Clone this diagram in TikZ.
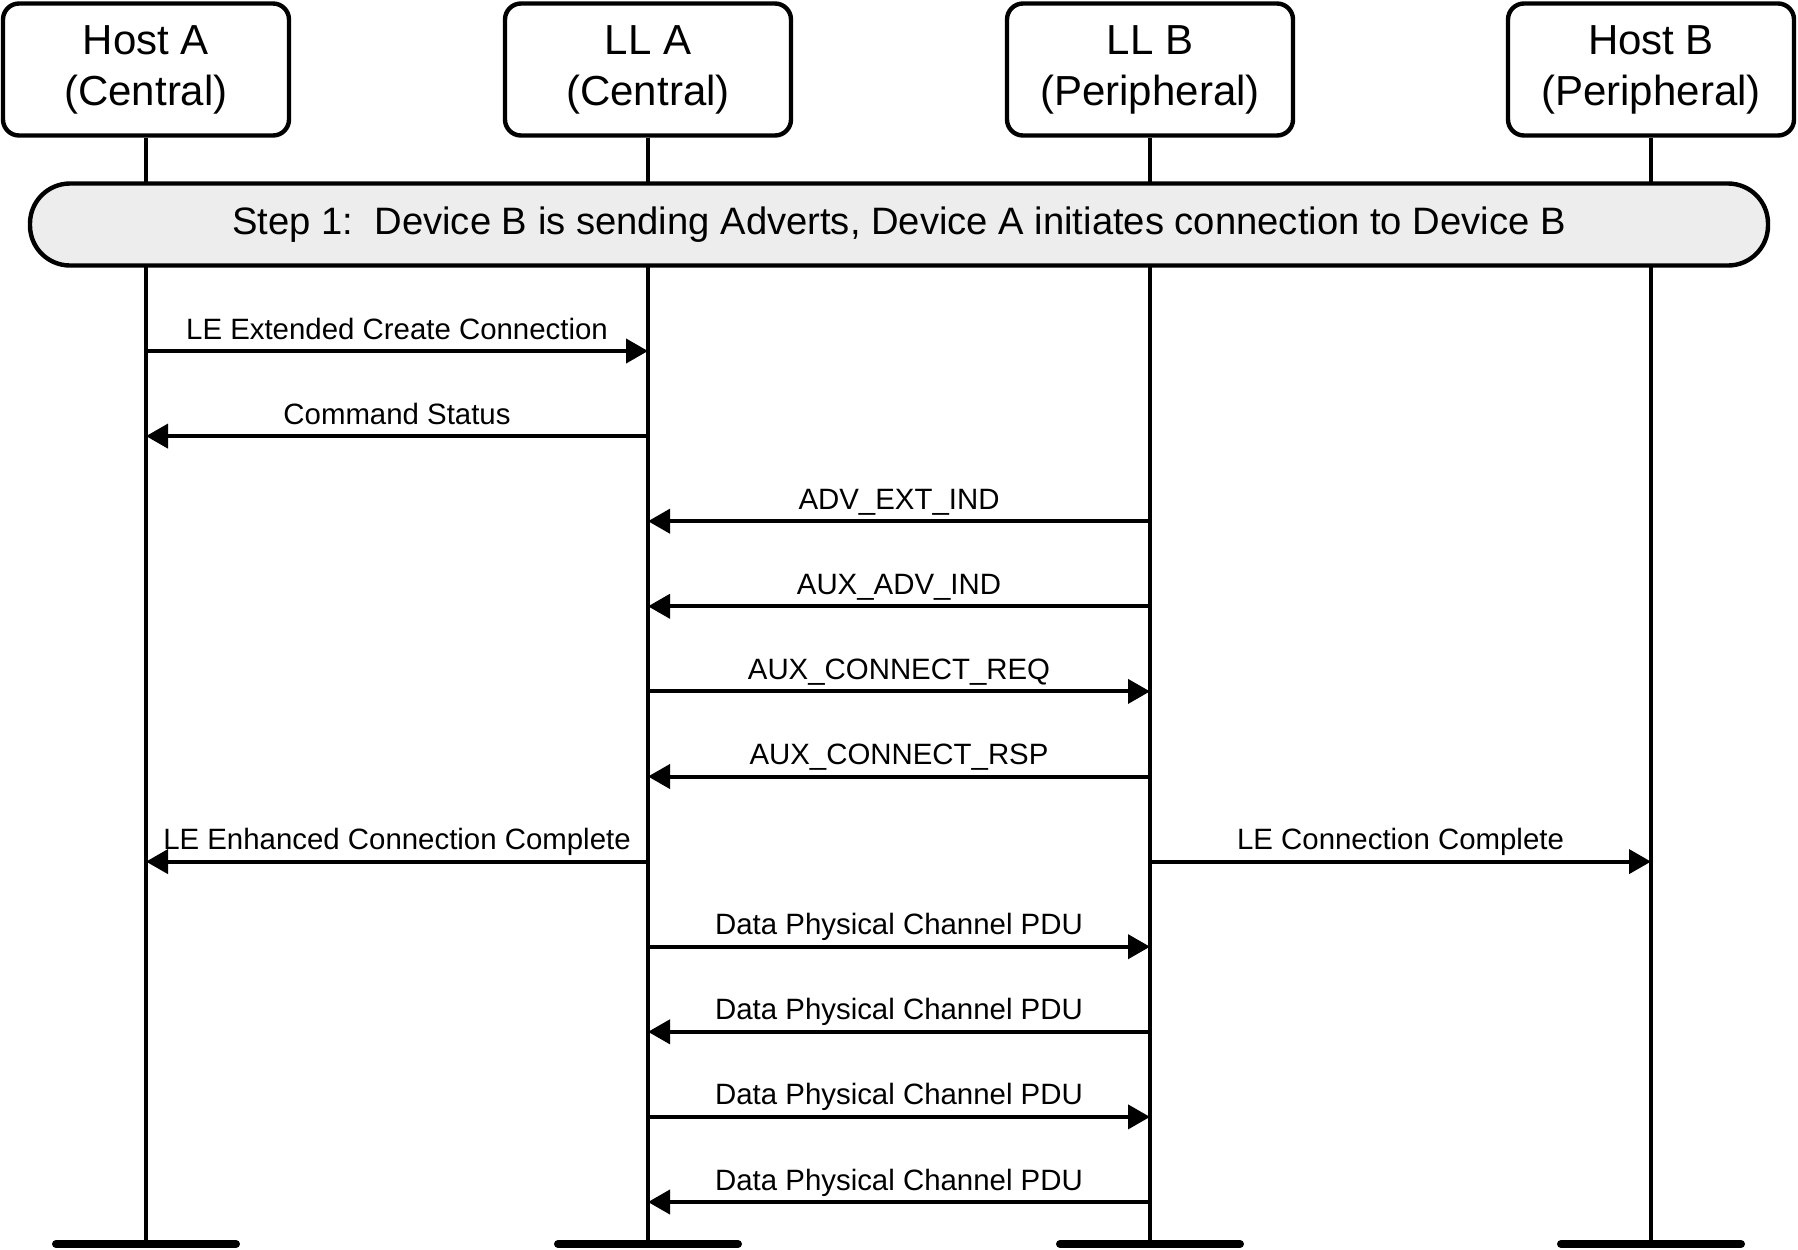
\documentclass[tikz,border=0pt]{standalone}
\usepackage{fontspec}
\setmainfont{Liberation Sans}
\usetikzlibrary{arrows.meta}
\begin{document}
\begin{tikzpicture}[x=0.5pt,y=-0.5pt,
 hdr/.style={draw, line width=2.2pt, rounded corners=8pt, minimum width=143pt, minimum height=66pt, align=center, font=\fontsize{21pt}{25.5pt}\selectfont, inner sep=0pt, fill=white},
 life/.style={line width=2pt},
 endbar/.style={line width=4pt, line cap=round},
 msg/.style={line width=2pt, -{Triangle[length=11pt,width=12pt]}},
 lbl/.style={anchor=base, yshift=6pt, font=\fontsize{14.7pt}{17pt}\selectfont, inner sep=0pt},
 stepbox/.style={draw, line width=2.2pt, fill=black!7, rounded corners=20pt, minimum width=869pt, minimum height=41pt, inner sep=0pt, font=\fontsize{19.1pt}{23pt}\selectfont}]
\useasboundingbox (0,0) rectangle (1798,1249);
% headers
\node[hdr] (hA) at (146,69.5) {Host A\\(Central)};
\node[hdr] (lA) at (648,69.5) {LL A\\(Central)};
\node[hdr] (lB) at (1150,69.5) {LL B\\(Peripheral)};
\node[hdr] (hB) at (1651,69.5) {Host B\\(Peripheral)};
% bottom ends
\coordinate (bot) at (0,1244);
\foreach \n in {hA,lA,lB,hB}{
  \coordinate (e\n) at (\n |- bot);
  \draw[life] (\n.south) -- (e\n);
  \draw[endbar] ([xshift=-45pt]e\n) -- ([xshift=45pt]e\n);
}
% step box
\node[stepbox] (step) at (899,224.5) {Step 1:\ \ Device B is sending Adverts, Device A initiates connection to Device B};
% message rows
\foreach \i in {1,...,11}{
  \coordinate (r\i) at (0,{351+85.1*(\i-1)});
}
\draw[msg] (hA |- r1) -- node[lbl]{LE Extended Create Connection} (lA |- r1);
\draw[msg] (lA |- r2) -- node[lbl]{Command Status} (hA |- r2);
\draw[msg] (lB |- r3) -- node[lbl]{ADV\_EXT\_IND} (lA |- r3);
\draw[msg] (lB |- r4) -- node[lbl]{AUX\_ADV\_IND} (lA |- r4);
\draw[msg] (lA |- r5) -- node[lbl]{AUX\_CONNECT\_REQ} (lB |- r5);
\draw[msg] (lB |- r6) -- node[lbl]{AUX\_CONNECT\_RSP} (lA |- r6);
\draw[msg] (lA |- r7) -- node[lbl]{LE Enhanced Connection Complete} (hA |- r7);
\draw[msg] (lB |- r7) -- node[lbl]{LE Connection Complete} (hB |- r7);
\draw[msg] (lA |- r8) -- node[lbl]{Data Physical Channel PDU} (lB |- r8);
\draw[msg] (lB |- r9) -- node[lbl]{Data Physical Channel PDU} (lA |- r9);
\draw[msg] (lA |- r10) -- node[lbl]{Data Physical Channel PDU} (lB |- r10);
\draw[msg] (lB |- r11) -- node[lbl]{Data Physical Channel PDU} (lA |- r11);
\end{tikzpicture}
\end{document}
